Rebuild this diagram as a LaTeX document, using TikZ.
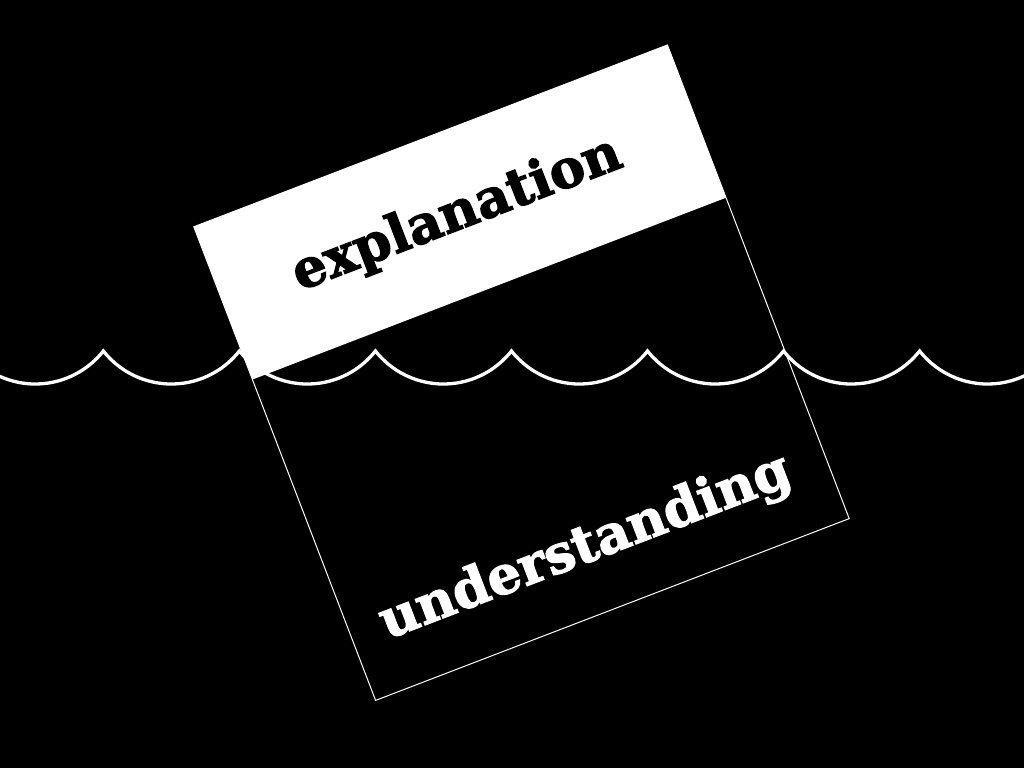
\documentclass[tikz,border=0pt]{standalone}
\usepackage{fontspec}
\newfontfamily\coop{DejaVu Serif}[BoldFeatures={FakeBold=2.2}]
\tikzset{
  word/.style={rotate=21, inner sep=0pt, font=\coop\bfseries\fontsize{53}{60}\selectfont},
  wave/.style={white, line width=3.3pt},
  frame/.style={white, line width=1pt}
}
\begin{document}
\begin{tikzpicture}[x=1pt,y=1pt]
\fill[black] (0,0) rectangle (1024,768);
\useasboundingbox (0,0) rectangle (1024,768);
\begin{scope}
\clip (0,0) rectangle (1024,768);
\draw[wave] (-32.7,417) \foreach \i in {0,...,8} { arc[start angle=218.2, end angle=321.8, radius=86.56] };
\begin{scope}[shift={(521.5,395.3)}, rotate=21]
\draw[frame] (-253.65,-253.65) rectangle (253.65,253.65);
\fill[white] (-253.65,90.05) rectangle (253.65,253.65);
\node[word, text=black] (expl) at (-3.5,170.3) {explanation};
\node[word, text=white] (under) at (-2.9,-186.8) {understanding};
\end{scope}
\end{scope}
\end{tikzpicture}
\end{document}
